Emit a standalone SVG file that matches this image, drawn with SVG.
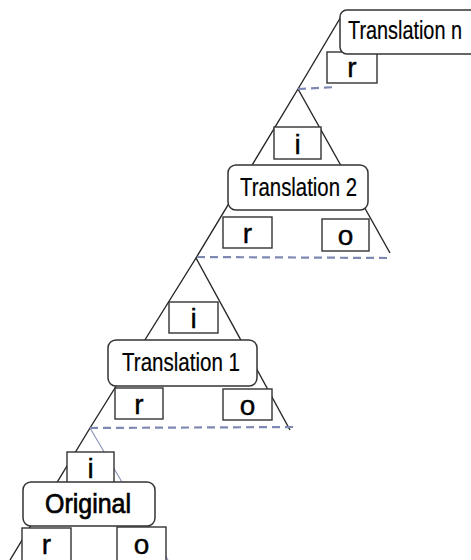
<svg xmlns="http://www.w3.org/2000/svg" width="471" height="560" viewBox="0 0 471 560">
  <style>
    .edge{stroke:#262626;stroke-width:1.4;fill:none}
    .edge-light{stroke:#8a93b8;stroke-width:1.1;fill:none}
    .base{stroke:#7f88b3;stroke-width:2.2;stroke-dasharray:8 5;fill:none}
    .port{fill:#fff;stroke:#333;stroke-width:1.4}
    .card{fill:#fff;stroke:#333;stroke-width:1.5}
    text{font-family:"Liberation Sans",Arial,sans-serif;fill:#000}
    .lbl{font-size:25px;stroke:#000;stroke-width:0.2}
    .letter{font-size:28px;text-anchor:middle;stroke:#000;stroke-width:0.4}
    .main{font-size:27px;stroke:#000;stroke-width:0.7}
  </style>

  <!-- triangle edges and dashed bases -->
  <g id="connectors">
    <polyline class="edge" points="345,10 298,89 196,258 90,428 10,560"/>
    <line class="edge" x1="298" y1="89" x2="390" y2="253"/>
    <line class="edge" x1="196" y1="258" x2="290" y2="430"/>
    <line class="edge-light" x1="90" y1="428" x2="168" y2="560"/>
    <line class="base" x1="298" y1="89" x2="337" y2="87"/>
    <line class="base" x1="197" y1="257" x2="390" y2="258"/>
    <line class="base" x1="90" y1="428" x2="293" y2="427"/>
  </g>

  <g id="translation-n">
    <rect class="port" x="327" y="52" width="50" height="31"/>
    <text class="letter" x="352" y="77">r</text>
    <rect class="card" x="340" y="10" width="150" height="44" rx="7"/>
    <text class="lbl" x="348" y="39" textLength="114" lengthAdjust="spacingAndGlyphs">Translation n</text>
  </g>

  <g id="translation-2">
    <rect class="port" x="274" y="127" width="47" height="32"/>
    <text class="letter" x="297.5" y="154">i</text>
    <rect class="card" x="228" y="165" width="140" height="45" rx="8"/>
    <text class="lbl" x="240" y="196" textLength="117" lengthAdjust="spacingAndGlyphs">Translation 2</text>
    <rect class="port" x="223" y="217" width="49" height="31"/>
    <text class="letter" x="247.5" y="243">r</text>
    <rect class="port" x="322" y="219" width="47" height="32"/>
    <text class="letter" x="345.5" y="245">o</text>
  </g>

  <g id="translation-1">
    <rect class="port" x="169" y="302" width="49" height="31"/>
    <text class="letter" x="193.5" y="328">i</text>
    <rect class="card" x="108" y="340" width="149" height="46" rx="8"/>
    <text class="lbl" x="122" y="371" textLength="118" lengthAdjust="spacingAndGlyphs">Translation 1</text>
    <rect class="port" x="115" y="388" width="48" height="31"/>
    <text class="letter" x="139" y="414">r</text>
    <rect class="port" x="223" y="389" width="49" height="31"/>
    <text class="letter" x="247.5" y="415">o</text>
  </g>

  <g id="original">
    <rect class="port" x="67" y="452" width="47" height="31"/>
    <text class="letter" x="90.5" y="478">i</text>
    <rect class="card" x="23" y="482" width="132" height="44" rx="8"/>
    <text class="main" x="45" y="513" textLength="86" lengthAdjust="spacingAndGlyphs">Original</text>
    <rect class="port" x="22" y="528" width="49" height="36"/>
    <text class="letter" x="46.5" y="554">r</text>
    <rect class="port" x="117" y="527" width="49" height="37"/>
    <text class="letter" x="141.5" y="554">o</text>
  </g>
</svg>
